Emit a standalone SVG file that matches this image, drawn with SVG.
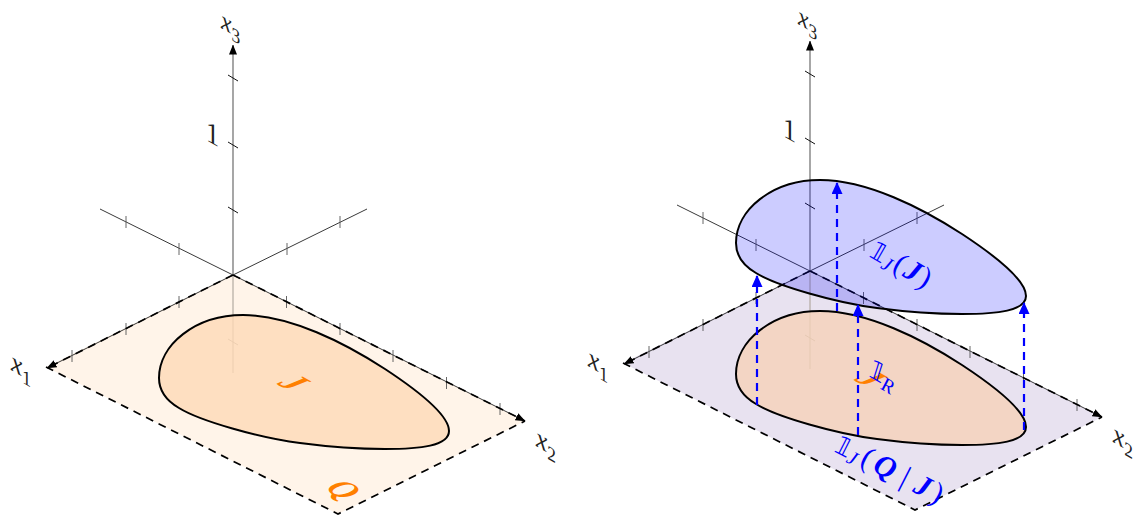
<svg xmlns="http://www.w3.org/2000/svg" xmlns:xlink="http://www.w3.org/1999/xlink" width="1142" height="516" viewBox="0 0 1142 516">
<style>
.ax{stroke:#222;stroke-width:.9;fill:none}
.z{stroke:#777;stroke-width:1.3;fill:none}
.zf{stroke:#b3aaa2;stroke-width:1.2;fill:none}
.tk{stroke:#555;stroke-width:.9;fill:none}
.tkb{stroke:#111;stroke-width:1;fill:none}
.tkf{stroke:#a09890;stroke-width:.9;fill:none}
.ed{stroke:#000;stroke-width:1.7;stroke-dasharray:8 6;fill:none}
.bl{stroke:#000;stroke-width:2}
.pr{stroke:#00f;stroke-width:2.2;stroke-dasharray:8 6;fill:none;marker-end:url(#ah)}
text{font-family:"Liberation Serif",serif}
.m{font-style:italic;font-size:29px;fill:#222}
.m3{font-size:27px}
.n{font-style:normal;font-size:30px;fill:#222}
.s{font-style:normal;font-size:20px}
.o{font-style:italic;font-weight:bold;fill:#ff8000;text-anchor:middle}
.b{fill:#00f;font-size:30px}
.bi{font-style:italic}
.sb{font-size:20px}
.bb{font-family:"DejaVu Sans",sans-serif;font-size:25px}
</style>
<defs>
<marker id="ak" viewBox="0 0 10 8" refX="9.500" refY="4" markerWidth="10" markerHeight="8" markerUnits="userSpaceOnUse" orient="auto"><path d="M0,0L10,4L0,8Z" fill="#000"/></marker>
<marker id="ah" viewBox="0 0 12 11" refX="11" refY="5.500" markerWidth="12" markerHeight="11" markerUnits="userSpaceOnUse" orient="auto"><path d="M0,0L12,5.500L0,11Z" fill="#00f"/></marker>
<path id="blob" d="M159,378C159,391 167,401 179,408C200,421 260,438 300,443C330,447 360,449 385,449C420,449 449,446 449,431C449,415 420,392 385,369C345,343 290,315 243,315C195,315 159,345 159,378Z"/>
<g id="axes">
<path class="ax" d="M100,209L233,275M367,209L233,275"/>
<path class="z" d="M233,275V46"/><path d="M233,48V45" class="z" marker-end="url(#ak)"/>
<path class="zf" d="M233,275V373"/>
<path class="ax" d="M233,275L47,368" marker-end="url(#ak)"/>
<path class="ax" d="M233,275L525,421" marker-end="url(#ak)"/>
<path class="tkb" d="M228,75L238,81M228,142L238,148M228,207L238,213"/>
<path class="tkf" d="M228,339L238,345"/>
<path class="tk" d="M126,216V228M179,243V255M287,243V255M340,216V228M179,296V308M126,323V335M72,350V362M286.500,296V308M340,323V335M393,350V362M446.500,377V389M500,403V415"/>
<path class="ed" d="M233,275L47,368M233,275L525,421"/>
</g>
</defs>
<g id="panel-left">
<path id="left-plane" d="M233,275L46,367L338,514L525,421Z" fill="#fff4e9"/>
<use href="#axes" xlink:href="#axes"/>
<g id="left-set-j"><use href="#blob" xlink:href="#blob" fill="#fed9b6" fill-opacity=".8"/><use href="#blob" xlink:href="#blob" fill="none" class="bl"/></g>
<g id="left-edges"><path class="ed" d="M46,367L338,514L525,421"/></g>
<text class="o" font-size="34" transform="matrix(.87,.5,-.87,.5,284,388)">J</text>
<text class="o" font-size="33" transform="matrix(.87,.5,-.87,.5,334,495)">Q</text>
<text class="m" transform="matrix(.87,.5,0,1,11,370)">x<tspan class="s" dy="6">1</tspan></text>
<text class="m" transform="matrix(.87,.5,0,1,536,446)">x<tspan class="s" dy="6">2</tspan></text>
<text class="m m3" transform="matrix(.87,.5,0,1,221,28)">x<tspan class="s" dy="6">3</tspan></text>
<text class="n" transform="matrix(.87,.5,0,1,206,140)">1</text>
</g>
<g id="panel-right">
<g transform="translate(577,-4)">
<path id="right-plane" d="M233,275L46,367L338,514L525,421Z" fill="#e8e2f0"/>
<use href="#axes" xlink:href="#axes"/>
<g id="right-set-j"><use href="#blob" xlink:href="#blob" fill="#f5d2b9" fill-opacity=".8"/><use href="#blob" xlink:href="#blob" fill="none" class="bl"/></g>
<path class="ed" d="M46,367L338,514L525,421"/>
<text class="o" font-size="34" transform="matrix(.87,.5,-.87,.5,284,388)">J</text>
<g id="lifted-set" transform="translate(0,-131)"><use href="#blob" xlink:href="#blob" fill="#00f" fill-opacity=".2"/><use href="#blob" xlink:href="#blob" fill="none" class="bl"/></g>
<text class="m" transform="matrix(.87,.5,0,1,11,370)">x<tspan class="s" dy="6">1</tspan></text>
<text class="m" transform="matrix(.87,.5,0,1,536,446)">x<tspan class="s" dy="6">2</tspan></text>
<text class="m m3" transform="matrix(.87,.5,0,1,221,28)">x<tspan class="s" dy="6">3</tspan></text>
<text class="n" transform="matrix(.87,.5,0,1,206,140)">1</text>
</g>
<g id="connectors">
<path class="pr" d="M757,405V276"/>
<path class="pr" d="M837,311V183"/>
<path class="pr" d="M858,435V305"/>
<path class="pr" d="M1024,430V303"/>
</g>
<g id="right-labels">
<text class="b" transform="rotate(30 868 256)" x="868" y="256"><tspan class="bb">𝟙</tspan><tspan class="bi sb" dy="4">J</tspan><tspan dy="-4" dx="2">(</tspan><tspan class="bi" font-weight="bold" dx="2">J</tspan><tspan dx="2">)</tspan></text>
<text class="b" transform="matrix(.87,.5,-.3,.95,868,376)"><tspan class="bb" font-size="28">𝟙</tspan><tspan class="bi sb" dy="5" font-size="25">R</tspan></text>
<text class="b" transform="rotate(27 833 451)" x="833" y="451"><tspan class="bb">𝟙</tspan><tspan class="bi sb" dy="4">J</tspan><tspan dy="-4" dx="4">(</tspan><tspan class="bi" font-weight="bold" dx="4">Q</tspan><tspan dx="9">|</tspan><tspan class="bi" font-weight="bold" dx="9">J</tspan><tspan dx="4">)</tspan></text>
</g>
</g>
</svg>
